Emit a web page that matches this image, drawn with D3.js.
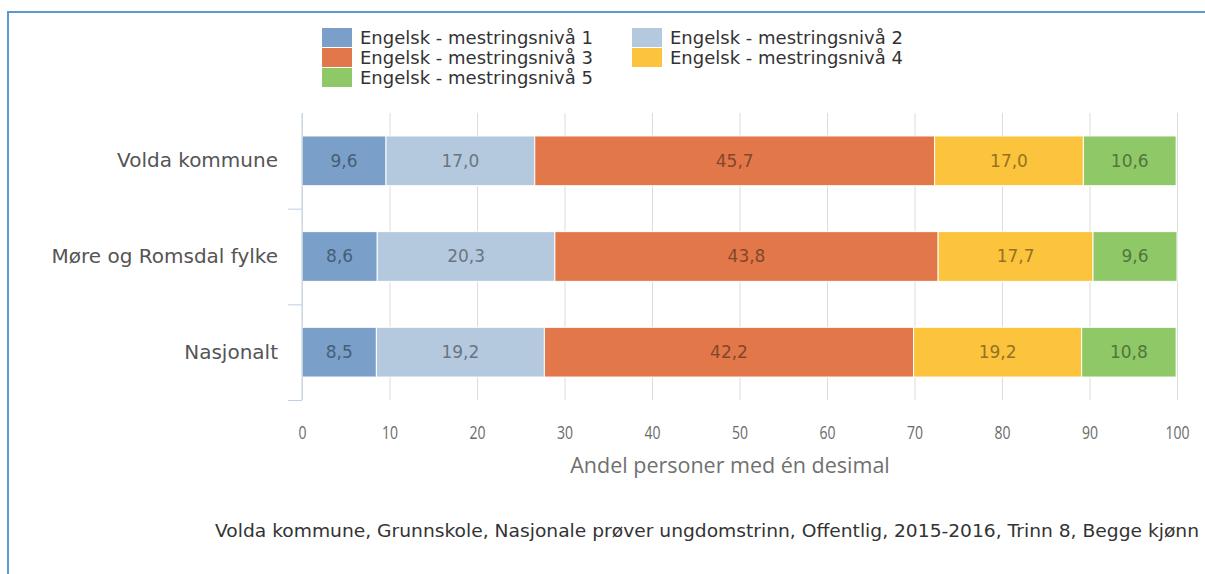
<!DOCTYPE html>
<html lang="no">
<head>
<meta charset="UTF-8">
<script src="https://d3js.org/d3.v7.min.js"></script>
<style>
  body { margin: 0; background: #fff; }
  .grid line { stroke: #dcdcdc; }
  .grid path { display: none; }
  .xAxis path, .xAxis line { display: none; }
  .xAxis text { font-family: "Open Sans", sans-serif; font-size: 17.5px; fill: #6a6a6a; }
  .yAxis path, .yAxis line { stroke: #c0d0e0; fill: none; }
  .yAxis text { font-family: "DejaVu Sans", sans-serif; font-size: 20px; fill: #555; }
  .legend text { font-family: "DejaVu Sans", sans-serif; font-size: 18px; fill: #333; }
  .barLabel { font-family: "DejaVu Sans", sans-serif; font-size: 17px; }
</style>
</head>
<body>
<script>
  var categories = ["Volda kommune", "Møre og Romsdal fylke", "Nasjonalt"]
  var seriesNames = ["Engelsk - mestringsnivå 1", "Engelsk - mestringsnivå 2", "Engelsk - mestringsnivå 3",
                     "Engelsk - mestringsnivå 4", "Engelsk - mestringsnivå 5"]
  var niva1 = [9.6, 8.6, 8.5]
  var niva2 = [17.0, 20.3, 19.2]
  var niva3 = [45.7, 43.8, 42.2]
  var niva4 = [17.0, 17.7, 19.2]
  var niva5 = [10.6, 9.6, 10.8]
  var xTicks = [0, 10, 20, 30, 40, 50, 60, 70, 80, 90, 100]
  var colors = ["#7aa0c9", "#b4c9de", "#e2784a", "#fcc33c", "#8fc866"]
  var xTitle = "Andel personer med én desimal"
  var caption = "Volda kommune, Grunnskole, Nasjonale prøver ungdomstrinn, Offentlig, 2015-2016, Trinn 8, Begge kjønn"

  var width = 1205, height = 574
  var padding = { top: 113, left: 302, right: 28, bottom: 174 }
  var plotW = width - padding.left - padding.right
  var plotH = height - padding.top - padding.bottom

  var series = [niva1, niva2, niva3, niva4, niva5]
  var rows = categories.map(function (c, i) {
    var r = { cat: c }
    series.forEach(function (s, k) { r["s" + k] = s[i] })
    return r
  })
  var keys = series.map(function (s, k) { return "s" + k })
  var stacked = d3.stack().keys(keys)(rows)

  var svg = d3.select("body").append("svg").attr("width", width).attr("height", height)

  // blue frame
  svg.append("path")
    .attr("d", "M8," + height + " V12 H" + width)
    .attr("fill", "none").attr("stroke", "#5b9bd5").attr("stroke-width", 2)

  var xScale = d3.scaleLinear().domain([0, 100]).range([0, plotW])
  var yScale = d3.scaleBand().domain(categories).range([0, plotH]).paddingInner(0.48).paddingOuter(0.24)
  var yBand = d3.scaleBand().domain(categories).range([0, plotH])

  var g = svg.append("g").attr("transform", "translate(" + padding.left + "," + padding.top + ")")

  g.append("g").attr("class", "grid")
    .call(d3.axisBottom(xScale).tickValues(xTicks).tickSize(plotH).tickFormat(""))

  var layer = g.selectAll(".layer").data(stacked).enter().append("g")
    .attr("fill", function (d, i) { return colors[i] })

  layer.selectAll("rect").data(function (d) { return d }).enter().append("rect")
    .attr("x", function (d) { return xScale(d[0]) })
    .attr("y", function (d) { return yScale(d.data.cat) })
    .attr("width", function (d) { return xScale(d[1]) - xScale(d[0]) })
    .attr("height", yScale.bandwidth())
    .attr("stroke", "#fff").attr("stroke-width", 1)

  layer.selectAll("text").data(function (d, i) { return d.map(function (v) { v.ci = i; return v }) })
    .enter().append("text")
    .attr("class", "barLabel")
    .attr("x", function (d) { return (xScale(d[0]) + xScale(d[1])) / 2 })
    .attr("y", function (d) { return yScale(d.data.cat) + yScale.bandwidth() / 2 })
    .attr("dy", "0.35em")
    .attr("text-anchor", "middle")
    .attr("fill", function (d) { return d3.color(colors[d.ci]).darker(1.5) })
    .text(function (d) { return d3.format(".1f")(d[1] - d[0]).replace(".", ",") })

  var yAxis = d3.axisLeft(yBand).tickSize(0).tickPadding(24)
  var yAxisG = g.append("g").attr("class", "yAxis").call(yAxis)
  yAxisG.select("path").attr("d", "M0,0 V" + plotH)
  // ticks at band edges
  yAxisG.selectAll(".edge").data(categories).enter().append("line")
    .attr("x1", -14).attr("x2", 0)
    .attr("y1", function (d) { return yBand(d) + yBand.bandwidth() + 0.5 })
    .attr("y2", function (d) { return yBand(d) + yBand.bandwidth() + 0.5 })

  var xAxisG = g.append("g").attr("class", "xAxis").attr("transform", "translate(0," + plotH + ")")
    .call(d3.axisBottom(xScale).tickValues(xTicks).tickSize(0).tickPadding(27))
  // narrow digits like the original
  xAxisG.selectAll("text").attr("transform", "scale(0.8,1)")

  svg.append("text")
    .attr("x", 730).attr("y", 473)
    .attr("text-anchor", "middle")
    .attr("font-family", "Open Sans, sans-serif")
    .attr("font-size", 21.5).attr("fill", "#707070")
    .text(xTitle)

  // legend
  var legend = svg.append("g").attr("class", "legend")
  var item = legend.selectAll("g").data(seriesNames).enter().append("g")
    .attr("transform", function (d, i) {
      return "translate(" + (i % 2 ? 632 : 322) + "," + (28 + Math.floor(i / 2) * 20) + ")"
    })
  item.append("rect").attr("width", 30).attr("height", 19)
    .attr("fill", function (d, i) { return colors[i] })
  item.append("text").attr("x", 38).attr("y", 16).text(function (d) { return d })

  svg.append("text")
    .attr("x", 215).attr("y", 537)
    .attr("font-family", "DejaVu Sans, sans-serif").attr("font-size", 18).attr("fill", "#333")
    .attr("textLength", 984).attr("lengthAdjust", "spacingAndGlyphs")
    .text(caption)
</script>
</body>
</html>
